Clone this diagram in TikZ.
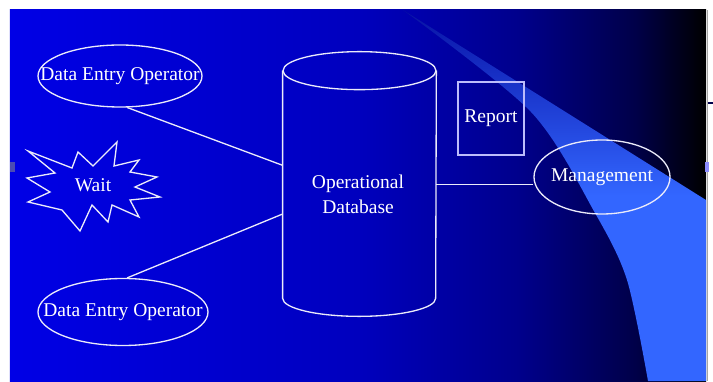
\documentclass[tikz,border=0pt]{standalone}
\usepackage{fontspec}
\setmainfont{Liberation Serif}
\usetikzlibrary{shapes.geometric}

\definecolor{bgleft}{RGB}{0,0,230}
\definecolor{bgmid}{RGB}{0,0,190}
\definecolor{bgdeep}{RGB}{0,0,140}
\definecolor{bgdark}{RGB}{0,0,72}
\definecolor{sweeptop}{RGB}{8,18,165}
\definecolor{sweep}{RGB}{51,102,255}
\definecolor{edge}{RGB}{235,235,250}

\pgfdeclarehorizontalshading{slidebg}{100bp}{color(0bp)=(bgleft); color(25bp)=(bgleft);
    color(50bp)=(bgmid); color(61.5bp)=(bgdeep); color(70bp)=(bgdark);
    color(75bp)=(black); color(100bp)=(black)}

\begin{document}
\begin{tikzpicture}[
    every node/.style={text=white, font=\rmfamily\fontsize{11.1}{14.2}\selectfont},
    line/.style={draw=edge, line width=0.75pt},
    actor/.style={line, ellipse, inner sep=0pt, label=center:{#1}}
]
    \useasboundingbox (0,0) rectangle (14.26,7.62);

    % Background
    \shade[shading=slidebg] (0.2,0) rectangle (14.12,7.42);

    % Light sweep on the right
    \shade[top color=sweeptop, bottom color=sweep, middle color=sweep]
        (8.06,7.42) -- (14.12,3.62) -- (14.12,0) -- (12.96,0)
        -- plot[smooth] coordinates {(12.96,0) (12.54,2.02) (11.90,3.36) (10.62,5.38) (8.06,7.42)}
        -- cycle;

    % Edge marks
    \draw[gray!70, line width=0.6pt] (14.15,0) -- (14.15,7.42);
    \draw[blue!30!black, line width=0.6pt] (14.15,5.56) -- (14.26,5.56);
    \fill[blue!40!gray] (0.2,4.18) rectangle (0.3,4.38);
    \fill[blue!45!white] (14.1,4.18) rectangle (14.18,4.38);

    % Data entry operators
    \node[actor={Data Entry Operator}, minimum width=3.28cm, minimum height=1.24cm] (deo1) at (2.40,6.10) {};
    \node[actor={Data Entry Operator}, minimum width=3.40cm, minimum height=1.34cm] (deo2) at (2.46,1.38) {};

    % Wait burst
    \draw[line, line join=miter] (0.56,4.60) -- (1.44,4.26) -- (1.56,4.58) -- (1.86,4.30)
        -- (2.34,4.78) -- (2.28,4.30) -- (2.78,4.42) -- (2.60,4.18) -- (3.14,4.08)
        -- (2.70,3.88) -- (3.20,3.68) -- (2.60,3.62) -- (2.78,3.28) -- (2.24,3.52)
        -- (2.16,3.18) -- (1.84,3.52) -- (1.60,3.00) -- (1.24,3.42) -- (0.56,3.58)
        -- (1.00,3.78) -- (0.54,4.06) -- (1.10,4.16) -- cycle;
    \node (wait) at (1.86,3.92) {Wait};

    % Database cylinder
    \node[minimum width=3.06cm, minimum height=4.54cm, inner sep=0pt] (db) at (7.19,3.93) {};
    \draw[line] (db.north west) -- (db.south west)
        arc[start angle=180, end angle=360, x radius=1.53cm, y radius=0.36cm] -- (db.north east);
    \draw[line] (db.north) ellipse[x radius=1.53cm, y radius=0.38cm];
    \node[align=center] (dblabel) at (7.16,3.74) {Operational\\Database};

    % Report and management
    \node[line, draw=edge!80!blue, minimum width=1.32cm, minimum height=1.46cm] (report) at (9.82,5.25) {Report};
    \node[actor=Management, minimum width=2.72cm, minimum height=1.48cm] (mgmt) at (12.04,4.08) {};

    % Links
    \draw[line] (deo1.-77) -- (db.166);
    \draw[line] (deo2.83) -- (db.201);
    \draw[line] (db.east) -- (db.east -| mgmt.west);
\end{tikzpicture}
\end{document}
